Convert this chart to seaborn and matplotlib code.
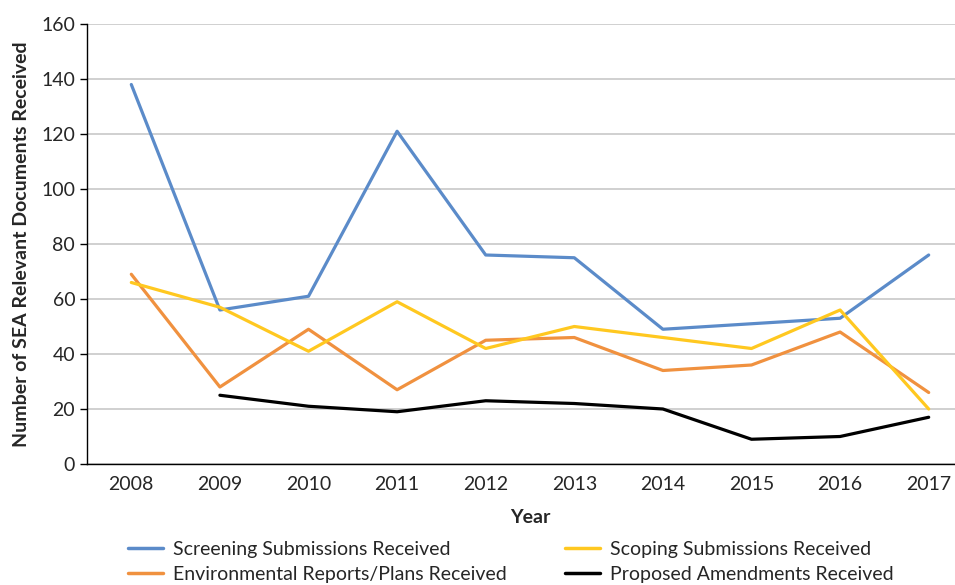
import numpy as np
import pandas as pd
import matplotlib
matplotlib.use("Agg")
import matplotlib.pyplot as plt
import seaborn as sns

years = [2008, 2009, 2010, 2011, 2012, 2013, 2014, 2015, 2016, 2017]
screening = [138, 56, 61, 121, 76, 75, 49, 51, 53, 76]
scoping = [66, 57, 41, 59, 42, 50, 46, 42, 56, 20]
env_reports = [69, 28, 49, 27, 45, 46, 34, 36, 48, 26]
amendments = [np.nan, 25, 21, 19, 23, 22, 20, 9, 10, 17]

series_names = ["Screening Submissions Received",
                "Environmental Reports/Plans Received",
                "Scoping Submissions Received",
                "Proposed Amendments Received"]
colors = ["#5B8BC9", "#F0913F", "#FFC820", "#000000"]

df = pd.DataFrame({"Year": years * 4,
                   "Count": screening + env_reports + scoping + amendments,
                   "Series": sum([[s] * len(years) for s in series_names], [])})

sns.set_style("white")
plt.rcParams['font.family'] = ['Lato', 'DejaVu Sans']

fig = plt.figure(figsize=(9.55, 5.85), dpi=100)
ax = fig.add_axes([87 / 955, 121 / 585, 886 / 955, 440 / 585])

sns.lineplot(data=df, x="Year", y="Count", hue="Series", hue_order=series_names,
             palette=colors, linewidth=2.3, ax=ax, legend=False)

ax.set_xlim(2007.5, 2017.5)
ax.set_ylim(0, 160)
ax.set_yticks(range(0, 161, 20))
ax.set_xticks(years)
ax.set_xticks(np.arange(2007.5, 2018, 1), minor=True)
ax.tick_params(axis="x", which="major", length=0, labelsize=14, pad=9)
ax.tick_params(axis="x", which="minor", length=5, width=1, direction="out", color="black")
ax.tick_params(axis="y", length=5, width=1, direction="out", color="black", labelsize=14, left=True)
ax.yaxis.grid(True, color="#C8C8C8", linewidth=1.2)
ax.set_axisbelow(True)
for s in ["top", "right"]:
    ax.spines[s].set_visible(False)
for s in ["left", "bottom"]:
    ax.spines[s].set_color("black")
    ax.spines[s].set_linewidth(1)

ax.set_xlabel("Year", fontsize=14, fontweight="bold", labelpad=11)
ax.set_ylabel("Number of SEA Relevant Documents Received", fontsize=14,
              fontweight="bold", labelpad=8)

handles = [plt.Line2D([], [], color=c, linewidth=2.5) for c in colors]
fig.legend(handles, series_names, loc="upper left", bbox_to_anchor=(128 / 955, 1 - 541 / 585),
           ncol=2, frameon=False, fontsize=14, handlelength=1.8, handletextpad=0.5,
           columnspacing=3.0, labelspacing=0.4, borderaxespad=0, borderpad=0)

fig.savefig("out.png", dpi=100)
